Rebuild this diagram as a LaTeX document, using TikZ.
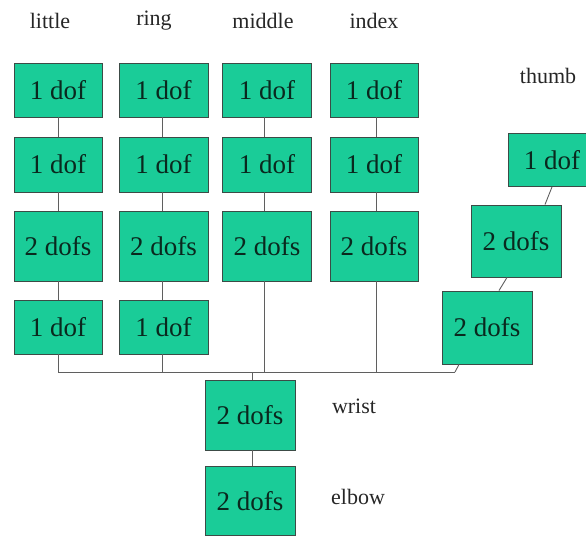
\documentclass[tikz,border=0pt]{standalone}
\usepackage{fontspec}
\setmainfont{Liberation Serif}
\definecolor{boxfill}{RGB}{26,204,152}
\definecolor{boxedge}{RGB}{60,75,70}
\definecolor{linkgray}{RGB}{95,95,95}
\definecolor{boxtext}{RGB}{10,40,30}
\begin{document}
\begin{tikzpicture}[x=1pt,y=-1pt,
  dofbox/.style={draw=boxedge,line width=0.9pt,fill=boxfill,inner sep=0pt,
    minimum width=88pt,text=boxtext,font=\rmfamily\fontsize{27}{27}\selectfont},
  oneh/.style={minimum height=54pt},
  twoh/.style={minimum height=70pt},
  link/.style={draw=linkgray,line width=0.9pt},
  lbl/.style={font=\rmfamily\fontsize{22}{22}\selectfont,text=black!85}]
\useasboundingbox (0,0) rectangle (586,536);
\begin{scope}
\clip (0,0) rectangle (586,536);
% labels
\node[lbl] (Llittle) at (50,21) {little};
\node[lbl] (Lring) at (154,21) {ring};
\node[lbl] (Lmiddle) at (263,21) {middle};
\node[lbl] (Lindex) at (374,21) {index};
\node[lbl] (Lthumb) at (548,76) {thumb};
\node[lbl] (Lwrist) at (354,406) {wrist};
\node[lbl] (Lelbow) at (358,497) {elbow};
% little
\node[dofbox,oneh] (l1) at (58,90) {1 dof};
\node[dofbox,oneh,minimum height=55pt] (l2) at (58,164.5) {1 dof};
\node[dofbox,twoh] (l3) at (58,246) {2 dofs};
\node[dofbox,oneh] (l4) at (58,327) {1 dof};
% ring
\node[dofbox,oneh,minimum width=89pt] (r1) at (163.5,90) {1 dof};
\node[dofbox,oneh,minimum width=89pt,minimum height=55pt] (r2) at (163.5,164.5) {1 dof};
\node[dofbox,twoh,minimum width=89pt] (r3) at (163.5,246) {2 dofs};
\node[dofbox,oneh,minimum width=89pt] (r4) at (163.5,327) {1 dof};
% middle
\node[dofbox,oneh,minimum width=89pt] (m1) at (267,90) {1 dof};
\node[dofbox,oneh,minimum width=89pt,minimum height=55pt] (m2) at (267,164.5) {1 dof};
\node[dofbox,twoh,minimum width=89pt] (m3) at (267,246) {2 dofs};
% index
\node[dofbox,oneh] (i1) at (374,90) {1 dof};
\node[dofbox,oneh,minimum height=55pt] (i2) at (374,164.5) {1 dof};
\node[dofbox,twoh] (i3) at (374,246) {2 dofs};
% thumb
\node[dofbox,minimum height=53pt] (t1) at (552,160) {1 dof};
\node[dofbox,minimum width=90pt,minimum height=72pt] (t2) at (516,241) {2 dofs};
\node[dofbox,minimum width=90pt,minimum height=73pt] (t3) at (487,327.5) {2 dofs};
% wrist and elbow
\node[dofbox,twoh,minimum width=90pt] (w) at (250,415) {2 dofs};
\node[dofbox,minimum width=90pt,minimum height=69pt] (e) at (250,501) {2 dofs};
% bus coordinates
\coordinate (busL) at (58,372);
\coordinate (busR) at (455,372);
\coordinate (busW) at (252,372);
% links
\draw[link] (l1) -- (l2);
\draw[link] (l2) -- (l3);
\draw[link] (l3) -- (l4);
\draw[link] (l4) -- (busL);
\draw[link] ([xshift=-1.5pt]r1.south) -- ([xshift=-1.5pt]r2.north);
\draw[link] ([xshift=-1.5pt]r2.south) -- ([xshift=-1.5pt]r3.north);
\draw[link] ([xshift=-1.5pt]r3.south) -- ([xshift=-1.5pt]r4.north);
\draw[link] ([xshift=-1.5pt]r4.south) -- ([xshift=-1.5pt]r4.south |- busL);
\draw[link] ([xshift=-3pt]m1.south) -- ([xshift=-3pt]m2.north);
\draw[link] ([xshift=-3pt]m2.south) -- ([xshift=-3pt]m3.north);
\draw[link] ([xshift=-3pt]m3.south) -- ([xshift=-3pt]m3.south |- busL);
\draw[link] ([xshift=2pt]i1.south) -- ([xshift=2pt]i2.north);
\draw[link] ([xshift=2pt]i2.south) -- ([xshift=2pt]i3.north);
\draw[link] ([xshift=2pt]i3.south) -- ([xshift=2pt]i3.south |- busL);
\draw[link] (t1.south) -- ([xshift=29pt]t2.north);
\draw[link] ([xshift=-9pt]t2.south) -- ([xshift=12pt]t3.north);
\draw[link] ([xshift=-28pt]t3.south) -- (busR);
\draw[link] (busL) -- (busR);
\draw[link] (busW) -- ([xshift=2pt]w.north);
\draw[link] ([xshift=2pt]w.south) -- ([xshift=2pt]e.north);
\end{scope}
\end{tikzpicture}
\end{document}
